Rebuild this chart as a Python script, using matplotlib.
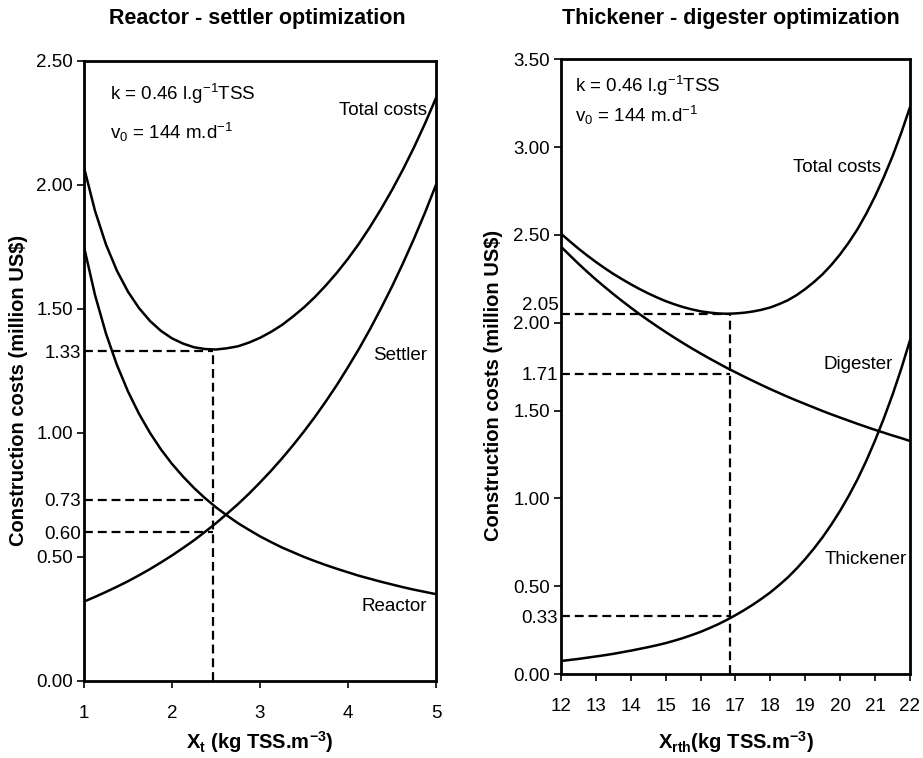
import matplotlib
matplotlib.use('Agg')
import matplotlib.pyplot as plt
import matplotlib.transforms as mtransforms

plt.rcParams['font.family'] = ['Liberation Sans', 'DejaVu Sans']
plt.rcParams['mathtext.default'] = 'regular'

# Reactor - settler
xt = [1.0, 1.125, 1.25, 1.375, 1.5, 1.625, 1.75, 1.875, 2.0, 2.125, 2.25, 2.375, 2.5, 2.625, 2.75, 2.875,
      3.0, 3.125, 3.25, 3.375, 3.5, 3.625, 3.75, 3.875, 4.0, 4.125, 4.25, 4.375, 4.5, 4.625, 4.75, 4.875, 5.0]
reactor = [1.750, 1.556, 1.400, 1.273, 1.167, 1.077, 1.000, 0.933, 0.875, 0.824, 0.778, 0.737, 0.700, 0.667,
           0.636, 0.609, 0.583, 0.560, 0.538, 0.519, 0.500, 0.483, 0.467, 0.452, 0.438, 0.424, 0.412, 0.400,
           0.389, 0.378, 0.368, 0.359, 0.350]
settler = [0.320, 0.339, 0.359, 0.380, 0.402, 0.426, 0.451, 0.478, 0.506, 0.536, 0.567, 0.601, 0.636, 0.674,
           0.713, 0.755, 0.800, 0.847, 0.897, 0.950, 1.006, 1.065, 1.128, 1.194, 1.265, 1.339, 1.418, 1.502,
           1.590, 1.684, 1.783, 1.888, 2.000]
total_rs = [2.070, 1.895, 1.759, 1.653, 1.569, 1.503, 1.451, 1.411, 1.381, 1.360, 1.345, 1.338, 1.336, 1.341,
            1.349, 1.364, 1.383, 1.407, 1.435, 1.469, 1.506, 1.548, 1.595, 1.646, 1.702, 1.763, 1.830, 1.902,
            1.979, 2.062, 2.151, 2.247, 2.350]
opt_xt = 2.47
opt_rs = {'total': 1.33, 'reactor': 0.73, 'settler': 0.60}
reactor_x_073 = 2.39

# Thickener - digester
xrth = [12, 12.25, 12.5, 12.75, 13, 13.25, 13.5, 13.75, 14, 14.25, 14.5, 14.75, 15, 15.25, 15.5, 15.75,
        16, 16.25, 16.5, 16.75, 17, 17.25, 17.5, 17.75, 18, 18.25, 18.5, 18.75, 19, 19.25, 19.5, 19.75,
        20, 20.25, 20.5, 20.75, 21, 21.25, 21.5, 21.75, 22]
thickener = [0.074, 0.080, 0.086, 0.093, 0.100, 0.107, 0.115, 0.124, 0.133, 0.143, 0.153, 0.164, 0.176,
             0.190, 0.205, 0.222, 0.240, 0.261, 0.283, 0.308, 0.335, 0.364, 0.395, 0.429, 0.465, 0.506,
             0.550, 0.600, 0.655, 0.715, 0.780, 0.852, 0.930, 1.016, 1.110, 1.215, 1.330, 1.455, 1.590,
             1.738, 1.900]
digester = [2.433, 2.384, 2.336, 2.290, 2.246, 2.204, 2.163, 2.124, 2.086, 2.049, 2.014, 1.980, 1.947,
            1.915, 1.884, 1.854, 1.825, 1.797, 1.770, 1.743, 1.718, 1.693, 1.669, 1.645, 1.622, 1.600,
            1.578, 1.557, 1.537, 1.517, 1.497, 1.478, 1.460, 1.442, 1.424, 1.407, 1.390, 1.374, 1.358,
            1.343, 1.327]
total_td = [2.507, 2.464, 2.422, 2.383, 2.346, 2.311, 2.278, 2.248, 2.219, 2.192, 2.167, 2.144, 2.123,
            2.105, 2.089, 2.076, 2.065, 2.058, 2.053, 2.051, 2.053, 2.057, 2.064, 2.074, 2.087, 2.106,
            2.128, 2.157, 2.192, 2.232, 2.277, 2.330, 2.390, 2.458, 2.534, 2.622, 2.720, 2.829, 2.948,
            3.081, 3.227]
opt_xrth = 16.84
opt_td = {'total': 2.05, 'digester': 1.71, 'thickener': 0.33}

fig = plt.figure(figsize=(9.23, 7.58), dpi=100)
ax1 = fig.add_axes([0.091, 0.1016, 0.3814, 0.8183])
ax2 = fig.add_axes([0.6078, 0.1108, 0.3781, 0.811])

lw = 1.8
dash = dict(color='black', linestyle=(0, (4, 2.2)), linewidth=1.6)
fs_tick = 13.5
fs_txt = 13.5
fs_lab = 14.5


def style(ax, major, minor):
    for s in ax.spines.values():
        s.set_linewidth(2)
    ax.set_yticks(major)
    ax.set_yticklabels([f'{v:.2f}' for v in major])
    ax.set_yticks(minor, minor=True)
    ax.set_yticklabels([f'{v:.2f}' for v in minor], minor=True)
    ax.tick_params(which='major', direction='out', length=5, width=1.2, labelsize=fs_tick, pad=3)
    ax.tick_params(which='minor', axis='y', length=0, labelsize=fs_tick, pad=2)
    ax.tick_params(axis='x', pad=12)


# Left panel
ax1.plot(xt, total_rs, color='black', lw=lw)
ax1.plot(xt, reactor, color='black', lw=lw)
ax1.plot(xt, settler, color='black', lw=lw)
ax1.plot([opt_xt, opt_xt], [0, opt_rs['total']], **dash)
ax1.plot([1, opt_xt], [opt_rs['total'], opt_rs['total']], **dash)
ax1.plot([1, reactor_x_073], [opt_rs['reactor'], opt_rs['reactor']], **dash)
ax1.plot([1, opt_xt], [opt_rs['settler'], opt_rs['settler']], **dash)
ax1.set_xlim(1, 5)
ax1.set_ylim(0, 2.5)
ax1.set_xticks([1, 2, 3, 4, 5])
style(ax1, [0, 0.5, 1.0, 1.5, 2.0, 2.5], [0.60, 0.73, 1.33])
ax1.text(1.295, 2.366, 'k = 0.46 l.g$^{-1}$TSS', fontsize=fs_txt, va='center')
ax1.text(1.295, 2.21, 'v$_0$ = 144 m.d$^{-1}$', fontsize=fs_txt, va='center')
ax1.text(4.9, 2.30, 'Total costs', fontsize=fs_txt, ha='right', va='center')
ax1.text(4.9, 1.31, 'Settler', fontsize=fs_txt, ha='right', va='center')
ax1.text(4.9, 0.30, 'Reactor', fontsize=fs_txt, ha='right', va='center')
ax1.set_xlabel('X$_t$ (kg TSS.m$^{-3}$)', fontsize=fs_lab, fontweight='bold')
ax1.set_ylabel('Construction costs (million US$)', fontsize=fs_lab, fontweight='bold')
ax1.yaxis.set_label_coords(-0.159, 0.469)
ax1.xaxis.set_label_coords(0.5, -0.078)

# Right panel
ax2.plot(xrth, total_td, color='black', lw=lw)
ax2.plot(xrth, digester, color='black', lw=lw)
ax2.plot(xrth, thickener, color='black', lw=lw)
ax2.plot([opt_xrth, opt_xrth], [0, opt_td['total']], **dash)
for key in ['total', 'digester', 'thickener']:
    ax2.plot([12, opt_xrth], [opt_td[key], opt_td[key]], **dash)
ax2.set_xlim(12, 22)
ax2.set_ylim(0, 3.5)
ax2.set_xticks(range(12, 23))
style(ax2, [0, 0.5, 1.0, 1.5, 2.0, 2.5, 3.0, 3.5], [0.33, 1.71])
trans = mtransforms.blended_transform_factory(ax2.transAxes, ax2.transData)
ax2.text(-0.006, 2.097, '2.05', transform=trans, fontsize=fs_tick, ha='right', va='center')
ax2.text(12.4, 3.346, 'k = 0.46 l.g$^{-1}$TSS', fontsize=fs_txt, va='center')
ax2.text(12.4, 3.18, 'v$_0$ = 144 m.d$^{-1}$', fontsize=fs_txt, va='center')
ax2.text(21.17, 2.884, 'Total costs', fontsize=fs_txt, ha='right', va='center')
ax2.text(21.51, 1.76, 'Digester', fontsize=fs_txt, ha='right', va='center')
ax2.text(21.91, 0.65, 'Thickener', fontsize=fs_txt, ha='right', va='center')
ax2.set_xlabel('X$_{rth}$(kg TSS.m$^{-3}$)', fontsize=fs_lab, fontweight='bold')
ax2.set_ylabel('Construction costs (million US$)', fontsize=fs_lab, fontweight='bold')
ax2.yaxis.set_label_coords(-0.166, 0.469)
ax2.xaxis.set_label_coords(0.5, -0.09)

fig.text(0.279, 0.975, 'Reactor - settler optimization', fontsize=15.5, fontweight='bold', ha='center', va='center')
fig.text(0.792, 0.975, 'Thickener - digester optimization', fontsize=15.5, fontweight='bold', ha='center', va='center')

fig.savefig('out.png', dpi=100)
